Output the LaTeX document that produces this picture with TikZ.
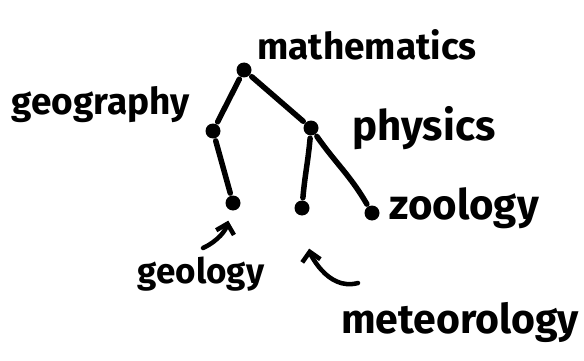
\documentclass[tikz,border=0pt]{standalone}
\usepackage{fontspec}
\setmainfont{Fira Sans}
\usetikzlibrary{arrows.meta}
\begin{document}
\begin{tikzpicture}[x=1pt,y=-1pt,line width=5.5pt,line cap=round,line join=round,
    dot/.style={circle,fill,inner sep=0pt,minimum size=15pt},
    word/.style={inner sep=0pt,font=\bfseries\fontsize{#1}{#1}\selectfont},
    word/.default=37,
    pointer/.style={line width=4.5pt,-{Straight Barb[angle=90:13pt]}}]
    \useasboundingbox (0,0) rectangle (584,361);
    % tree
    \node[dot] (math) at (244,70) {};
    \node[dot] (geog) at (213,131) {};
    \node[dot] (phys) at (311,128) {};
    \node[dot] (geol) at (233,203) {};
    \node[dot] (mete) at (302,208) {};
    \node[dot] (zool) at (372,213) {};
    \draw (math) -- (geog);
    \draw (math) -- (phys);
    \draw (geog) -- (geol);
    \draw (phys) to[out=-95,in=85] (mete);
    \draw (phys) to[out=-55,in=120] (zool);
    % labels
    \node[word] (mathtext) at (367,45) {mathematics};
    \node[word=37] (geogtext) at (101,105) {geography};
    \node[word=42] (phystext) at (424,128) {physics};
    \node[word=42] (zooltext) at (464,208) {zoology};
    \node[word=35] (geoltext) at (201,274) {geology};
    \node[word=41] (metetext) at (460,322) {meteorology};
    % pointers
    \coordinate (geoltail) at (203,248);
    \coordinate (metetail) at (358,283);
    \draw[pointer,shorten >=8pt] (geoltail) to[out=25,in=-105] (geol);
    \draw[pointer,shorten >=31pt] (metetail) to[out=-165,in=-80] (mete);
\end{tikzpicture}
\end{document}
